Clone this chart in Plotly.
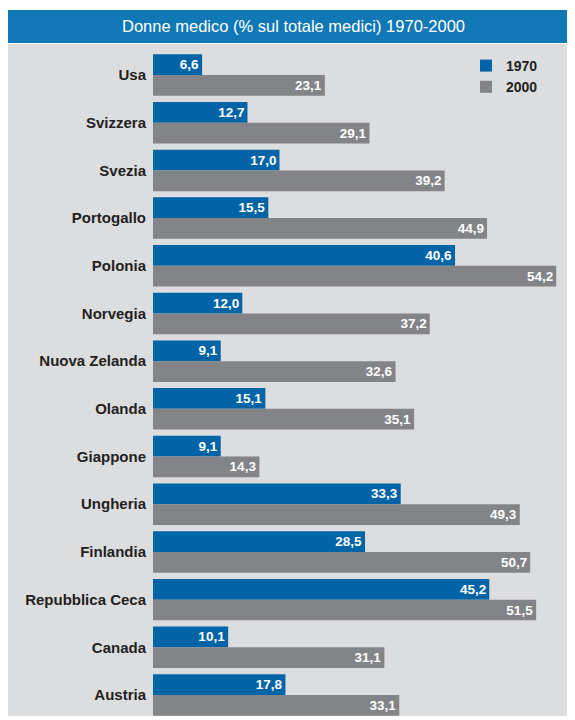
import plotly.graph_objects as go

categories = ["Usa", "Svizzera", "Svezia", "Portogallo", "Polonia", "Norvegia",
              "Nuova Zelanda", "Olanda", "Giappone", "Ungheria", "Finlandia",
              "Repubblica Ceca", "Canada", "Austria"]
values_1970 = [6.6, 12.7, 17.0, 15.5, 40.6, 12.0, 9.1, 15.1, 9.1, 33.3, 28.5, 45.2, 10.1, 17.8]
values_2000 = [23.1, 29.1, 39.2, 44.9, 54.2, 37.2, 32.6, 35.1, 14.3, 49.3, 50.7, 51.5, 31.1, 33.1]
series_names = ["1970", "2000"]
title_text = "Donne medico (% sul totale medici) 1970-2000"

BLUE = "#0064A7"
GREY = "#838487"
TITLE_BG = "#1078B4"
PANEL = "#DCDDDF"
FONT = "Liberation Sans, Arial, sans-serif"

def fmt(v):
    return f"{v:.1f}".replace(".", ",")

fig = go.Figure()
for name, vals, col in [(series_names[0], values_1970, BLUE), (series_names[1], values_2000, GREY)]:
    fig.add_trace(go.Bar(
        name=name, x=vals, y=categories, orientation="h",
        marker=dict(color=col, line=dict(width=0)),
        text=[fmt(v) for v in vals], textposition="inside", insidetextanchor="end",
        textfont=dict(color="white", size=13.5, family=FONT, weight="bold"),
        constraintext="none", cliponaxis=False,
    ))

# page body has an 8px margin; coordinates below are in figure pixels
W, H = 575, 720
L, R, T, B = 145, 0, 36, 12
pw = W - L - R
ph = H - T - B

def px_x(p):
    return (p - L) / pw

def px_y(p):
    return (H - B - p) / ph

shapes = [
    dict(type="rect", xref="paper", yref="paper", x0=px_x(0), x1=1, y0=0, y1=1,
         fillcolor=PANEL, line=dict(width=0), layer="below"),
    dict(type="rect", xref="paper", yref="paper", x0=px_x(0), x1=1, y0=px_y(35), y1=px_y(2),
         fillcolor=TITLE_BG, line=dict(width=0), layer="below"),
]

fig.update_layout(
    width=W, height=H,
    margin=dict(l=L, r=R, t=T, b=B, pad=0),
    paper_bgcolor="white", plot_bgcolor="rgba(0,0,0,0)",
    barmode="group", bargap=0.13, bargroupgap=0.0,
    shapes=shapes,
    annotations=[dict(text=title_text, xref="paper", yref="paper",
                      x=px_x(285), y=px_y(18.5), xanchor="center", yanchor="middle",
                      showarrow=False, font=dict(color="white", size=16.5, family=FONT))],
    xaxis=dict(range=[0, 57.8], visible=False, fixedrange=True),
    yaxis=dict(range=[13.44, -0.65], showgrid=False, zeroline=False, showline=False,
               ticks="", ticklabelstandoff=6,
               tickfont=dict(size=15, color="#231F20", family=FONT, weight="bold")),
    legend=dict(x=px_x(458), y=px_y(42), xanchor="left", yanchor="top",
                bgcolor="rgba(0,0,0,0)", traceorder="normal",
                font=dict(size=14, color="#231F20", family=FONT, weight="bold"),
                itemwidth=30, tracegroupgap=0),
    showlegend=True,
)

fig.write_html("out.html")
